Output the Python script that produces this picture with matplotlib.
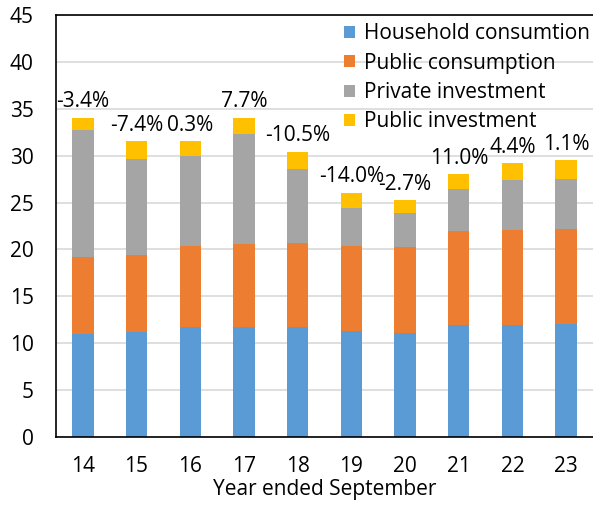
import numpy as np
from matplotlib import pyplot as plt

plt.rcParams['font.family'] = ['Open Sans', 'DejaVu Sans']

years = ['14', '15', '16', '17', '18', '19', '20', '21', '22', '23']
household = [11.0, 11.2, 11.75, 11.75, 11.75, 11.3, 11.05, 11.9, 11.9, 12.0]
public_cons = [8.15, 8.25, 8.6, 8.8, 8.95, 9.1, 9.2, 10.1, 10.2, 10.2]
private_inv = [13.6, 10.2, 9.65, 11.8, 7.85, 4.05, 3.6, 4.4, 5.35, 5.35]
public_inv = [1.3, 1.9, 1.55, 1.7, 1.85, 1.6, 1.4, 1.6, 1.75, 1.95]
growth = ['-3.4%', '-7.4%', '0.3%', '7.7%', '-10.5%', '-14.0%', '-2.7%', '11.0%', '4.4%', '1.1%']

fs = 15

fig = plt.figure(figsize=(5.93, 5.08), dpi=100)
ax = fig.add_axes([56/593, 71/508, 537/593, 422/508])

x = np.arange(len(years))
w = 0.4
bottom = np.zeros(len(years))
series = [(household, '#5B9BD5', 'Household consumtion'),
          (public_cons, '#ED7D31', 'Public consumption'),
          (private_inv, '#A5A5A5', 'Private investment'),
          (public_inv, '#FFC000', 'Public investment')]
for vals, col, lab in series:
    ax.bar(x, vals, w, bottom=bottom, color=col, label=lab, zorder=2)
    bottom = bottom + np.array(vals)

for i, g in enumerate(growth):
    ax.annotate(g, (x[i], bottom[i]), xytext=(0, 11.5), textcoords='offset points',
                ha='center', va='center', fontsize=fs, zorder=4,
                annotation_clip=False)

ax.set_xlim(-0.5, 9.5)
ax.set_ylim(0, 45)
ax.set_yticks(np.arange(0, 46, 5))
ax.set_xticks(x)
ax.set_xticklabels(years)
ax.tick_params(axis='both', length=0, labelsize=fs)
ax.tick_params(axis='x', pad=14)
ax.tick_params(axis='y', pad=16)
ax.grid(axis='y', color='#d9d9d9', linewidth=1.2, zorder=0)
ax.set_axisbelow(True)
for s in ['left', 'top', 'bottom']:
    ax.spines[s].set_color('black')
    ax.spines[s].set_linewidth(1.2)
ax.spines['right'].set_visible(False)
ax.set_xlabel('Year ended September', fontsize=fs, labelpad=1)

ax.legend(loc='upper left', bbox_to_anchor=(336/593, 1 - 15/508),
          bbox_transform=fig.transFigure, frameon=False, fontsize=fs,
          handlelength=0.5, handleheight=0.5, handletextpad=0.45,
          labelspacing=0.4, borderaxespad=0)

plt.savefig('out.png')
